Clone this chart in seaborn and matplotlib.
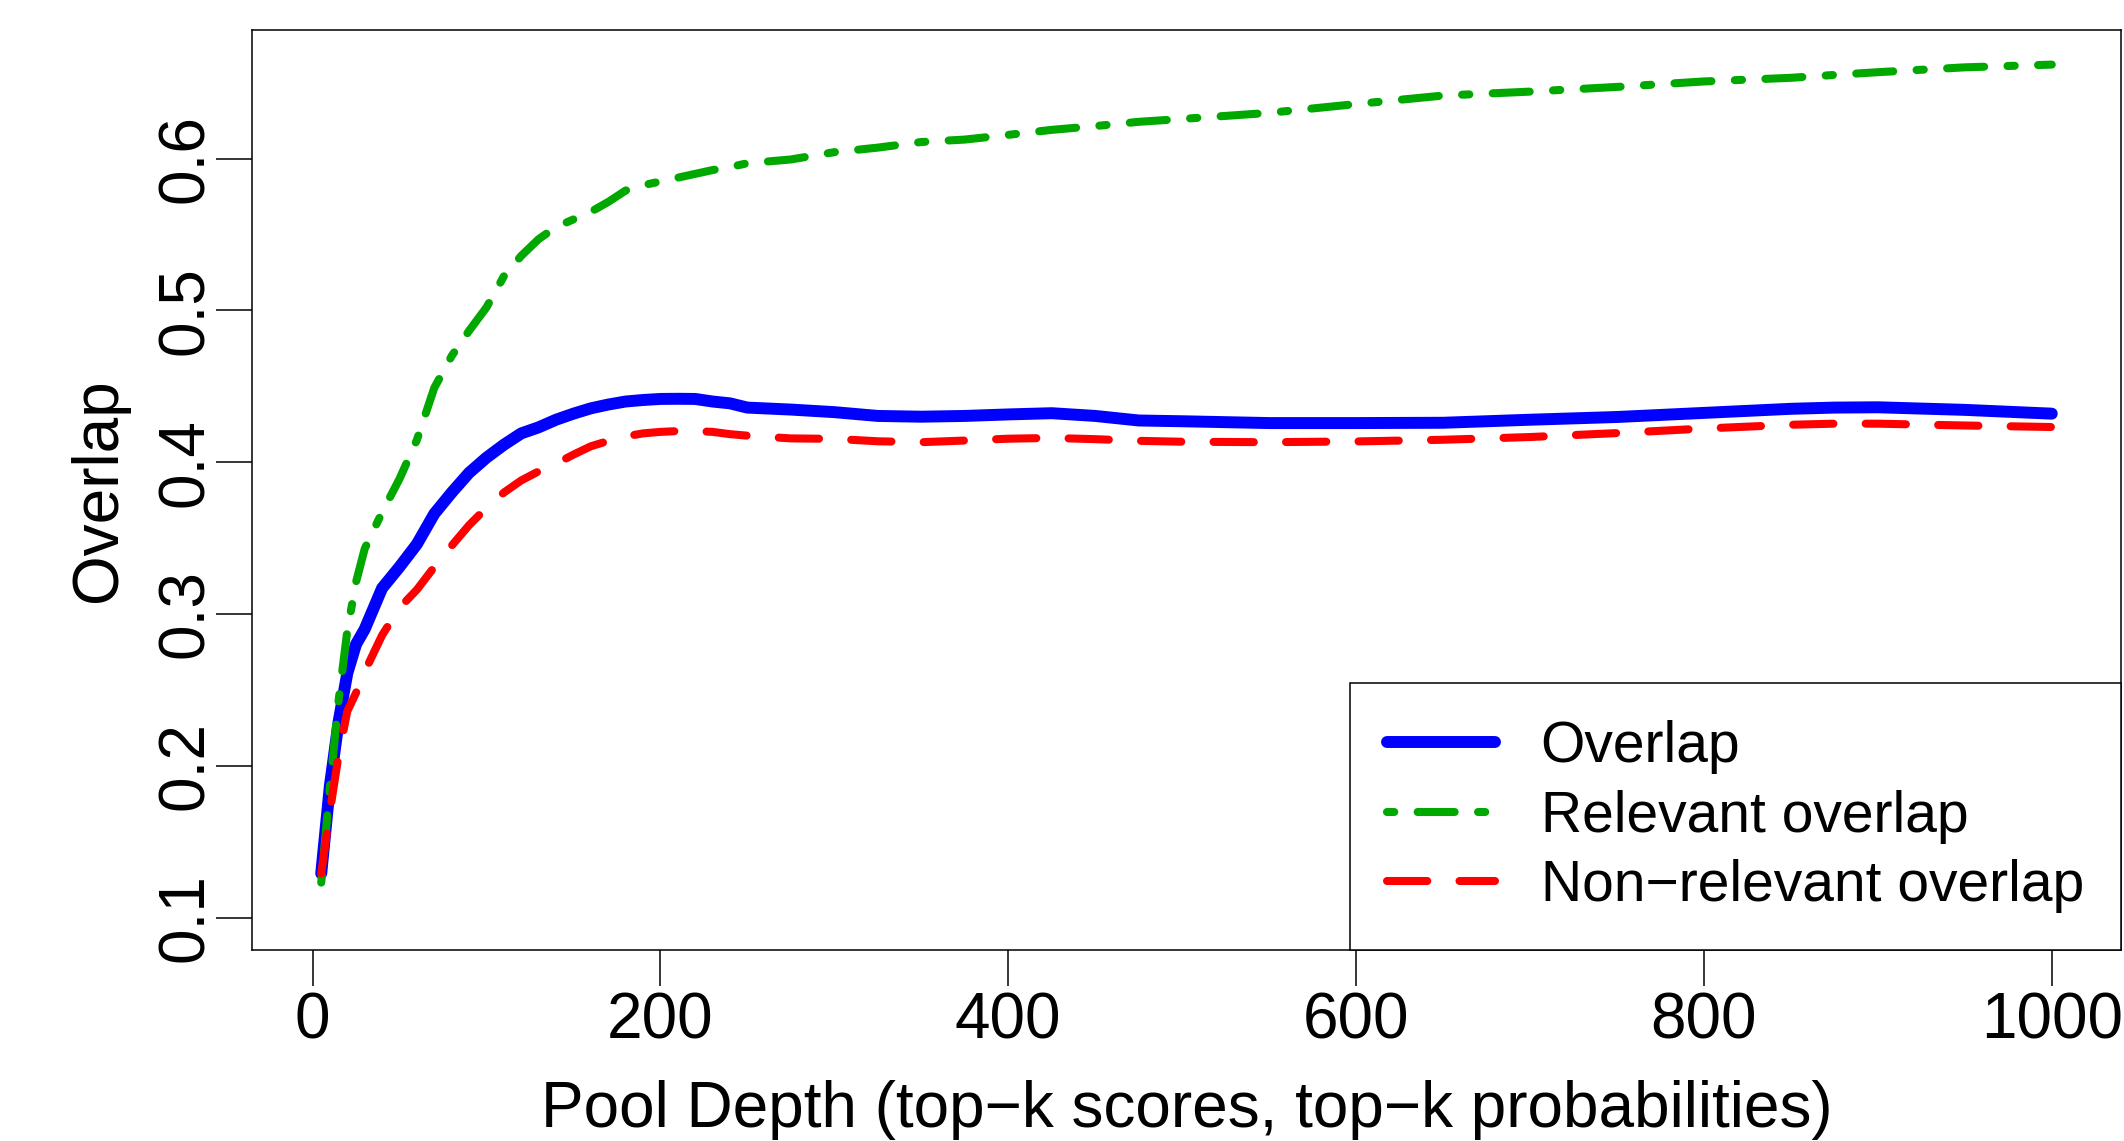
import pandas as pd
import matplotlib
matplotlib.use("Agg")
import matplotlib.pyplot as plt
import seaborn as sns

# pool depths and the three overlap curves
depth = [5, 10, 15, 20, 25, 30, 40, 50, 60, 70, 80, 90, 100, 110, 120, 130, 140,
         150, 160, 170, 180, 190, 200, 210, 220, 230, 240, 250, 275, 300, 325,
         350, 375, 400, 425, 450, 475, 500, 550, 600, 650, 700, 750, 800, 850,
         875, 900, 950, 1000]

overlap = [0.129, 0.187, 0.229, 0.261, 0.280, 0.290, 0.317, 0.331, 0.346, 0.366,
           0.380, 0.393, 0.403, 0.4115, 0.419, 0.423, 0.428, 0.432, 0.4355, 0.438,
           0.440, 0.441, 0.4417, 0.4418, 0.4417, 0.440, 0.4388, 0.436, 0.4347,
           0.433, 0.4305, 0.430, 0.4305, 0.4315, 0.4323, 0.4305, 0.4275, 0.427,
           0.4258, 0.4258, 0.426, 0.428, 0.4298, 0.4325, 0.4352, 0.436, 0.4362,
           0.4345, 0.432]

relevant = [0.123, 0.186, 0.243, 0.289, 0.321, 0.343, 0.367, 0.389, 0.4147, 0.449,
            0.470, 0.4866, 0.502, 0.5225, 0.536, 0.547, 0.555, 0.560, 0.565, 0.5715,
            0.579, 0.5825, 0.585, 0.5875, 0.590, 0.5925, 0.5945, 0.597, 0.5995,
            0.6043, 0.6073, 0.611, 0.6126, 0.6157, 0.619, 0.6215, 0.6243, 0.6262,
            0.6302, 0.636, 0.6416, 0.6442, 0.6473, 0.6509, 0.6533, 0.6552, 0.657,
            0.6602, 0.662]

nonrelevant = [0.129, 0.170, 0.207, 0.236, 0.248, 0.262, 0.286, 0.304, 0.316, 0.331,
               0.345, 0.3585, 0.370, 0.380, 0.388, 0.394, 0.399, 0.405, 0.4105, 0.414,
               0.417, 0.419, 0.420, 0.4205, 0.4205, 0.420, 0.4185, 0.4175, 0.4157,
               0.4154, 0.4138, 0.4132, 0.4143, 0.4155, 0.416, 0.4152, 0.4141, 0.4135,
               0.4132, 0.4137, 0.4148, 0.4166, 0.4192, 0.4222, 0.4247, 0.4254, 0.4254,
               0.4242, 0.4232]

x_ticks = [0, 200, 400, 600, 800, 1000]
y_ticks = [0.1, 0.2, 0.3, 0.4, 0.5, 0.6]

df = pd.DataFrame({"depth": depth, "Overlap": overlap,
                   "Relevant overlap": relevant,
                   "Non\u2212relevant overlap": nonrelevant})

sns.set_style("ticks")
plt.rcParams["font.family"] = ["Liberation Sans", "DejaVu Sans"]
plt.rcParams["font.size"] = 46
for key in ["text.color", "axes.labelcolor", "xtick.color", "ytick.color"]:
    plt.rcParams[key] = "black"

fig = plt.figure(figsize=(21.24, 11.41), dpi=100)
ax = fig.add_axes([252 / 2124, 1 - 950 / 1141, 1869 / 2124, 920 / 1141])

sns.lineplot(data=df, x="depth", y="Overlap", ax=ax, color="#0000ff",
             linewidth=8.6, label="Overlap", solid_capstyle="round")
sns.lineplot(data=df, x="depth", y="Relevant overlap", ax=ax, color="#00a800",
             linewidth=5.8, label="Relevant overlap",
             linestyle=(0, (0.9, 2.9, 4.6, 2.9)), dash_capstyle="round")
sns.lineplot(data=df, x="depth", y="Non\u2212relevant overlap", ax=ax, color="#ff0000",
             linewidth=5.8, label="Non\u2212relevant overlap",
             linestyle=(0, (5, 4)), dash_capstyle="round")

ax.set_xlim(-34.8, 1039.8)
ax.set_ylim(0.0786, 0.6848)
ax.set_xticks(x_ticks)
ax.set_xticklabels([str(t) for t in x_ticks])
ax.set_yticks(y_ticks)
ax.set_yticklabels([f"{t:.1f}" for t in y_ticks])

ax.tick_params(axis="both", length=26, width=1.1, color="black", labelsize=46)
ax.tick_params(axis="x", pad=4)
ax.tick_params(axis="y", pad=0, labelrotation=90)
for lab in ax.get_yticklabels():
    lab.set_va("center")

for sp in ax.spines.values():
    sp.set_visible(True)
    sp.set_color("black")
    sp.set_linewidth(1.1)

ax.set_xlabel("Pool Depth (top\u2212k scores, top\u2212k probabilities)", fontsize=46)
ax.set_ylabel("Overlap", fontsize=46)
ax.xaxis.set_label_coords(0.5, -0.141)
ax.yaxis.set_label_coords(-0.066, 0.5)

leg = ax.legend(loc="lower right", bbox_to_anchor=(1, 0), borderaxespad=0,
                fontsize=41, handlelength=1.9, handletextpad=0.8,
                labelspacing=0.27, borderpad=0.65, fancybox=False,
                framealpha=1, edgecolor="black")
leg.get_frame().set_linewidth(1.1)

fig.savefig("out.png", dpi=100)
